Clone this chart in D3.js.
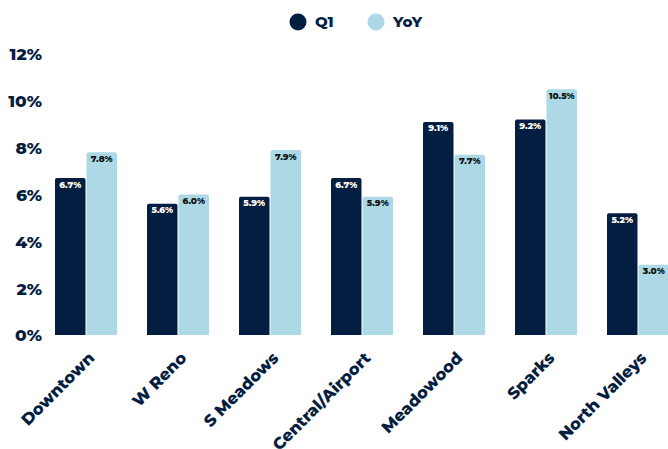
<!DOCTYPE html>
<html><head><meta charset="utf-8">
<script src="https://cdn.jsdelivr.net/npm/d3@7"></script>
<style>
body{margin:0;background:#fff;overflow:hidden}
text{font-family:Montserrat,Inter,"Open Sans",sans-serif}
</style></head>
<body><svg id="c" width="668" height="449"></svg>
<script>
const categories=["Downtown","W Reno","S Meadows","Central/Airport","Meadowood","Sparks","North Valleys"];
const q1=[6.7,5.6,5.9,6.7,9.1,9.2,5.2];
const yoy=[7.8,6.0,7.9,5.9,7.7,10.5,3.0];
const seriesNames=["Q1","YoY"];
const yTicks=[0,2,4,6,8,10,12];
const navy="#041E42", light="#ADD8E6";

const svg=d3.select("#c");
const y=d3.scaleLinear().domain([0,12]).range([335,54]);
const x=d3.scaleBand().domain(categories).range([40,684]).paddingInner(30/92).paddingOuter(15/92);
const xs=d3.scaleBand().domain(seriesNames).range([0,x.bandwidth()]).paddingInner(2/62);

// y axis
const ya=svg.append("g").attr("transform","translate(42,0)")
  .call(d3.axisLeft(y).tickValues(yTicks).tickFormat(d=>d+"%").tickSize(0).tickPadding(0));
ya.select(".domain").remove();
ya.selectAll("text").attr("font-size",17).attr("font-weight",800).attr("fill",navy).attr("dy","0.35em");

// bars
const data=categories.map((c,i)=>({c,vals:[{s:"Q1",v:q1[i]},{s:"YoY",v:yoy[i]}]}));
const g=svg.append("g").selectAll("g").data(data).join("g").attr("transform",d=>`translate(${x(d.c)},0)`);
function barPath(x0,w,top,bot,r){
  return `M${x0},${bot}V${top+r}Q${x0},${top} ${x0+r},${top}H${x0+w-r}Q${x0+w},${top} ${x0+w},${top+r}V${bot}Z`;
}
g.selectAll("path").data(d=>d.vals).join("path")
  .attr("d",d=>barPath(xs(d.s),xs.bandwidth(),y(d.v),y(0),2))
  .attr("fill",d=>d.s==="Q1"?navy:light);
g.selectAll("text.v").data(d=>d.vals).join("text").attr("class","v")
  .attr("x",d=>xs(d.s)+xs.bandwidth()/2).attr("y",d=>y(d.v)+9.5)
  .attr("text-anchor","middle").attr("font-size",9).attr("font-weight",800)
  .attr("fill",d=>d.s==="Q1"?"#fff":"#111")
  .text(d=>d.v.toFixed(1)+"%");

// x labels
svg.append("g").selectAll("text").data(categories).join("text")
  .attr("transform",d=>`translate(${x(d)+x.bandwidth()/2+1.5},351) rotate(-45)`)
  .attr("text-anchor","end").attr("font-size",16.3).attr("font-weight",800).attr("fill",navy)
  .attr("dy","0.7em").text(d=>d);

// legend
const lg=svg.append("g");
const lx=[298,376];
seriesNames.forEach((s,i)=>{
  lg.append("circle").attr("cx",lx[i]).attr("cy",22).attr("r",8.5).attr("fill",i?light:navy);
  lg.append("text").attr("x",lx[i]+17).attr("y",22).attr("dy","0.35em").attr("font-size",15)
    .attr("font-weight",800).attr("fill",navy).text(s);
});
</script></body></html>
